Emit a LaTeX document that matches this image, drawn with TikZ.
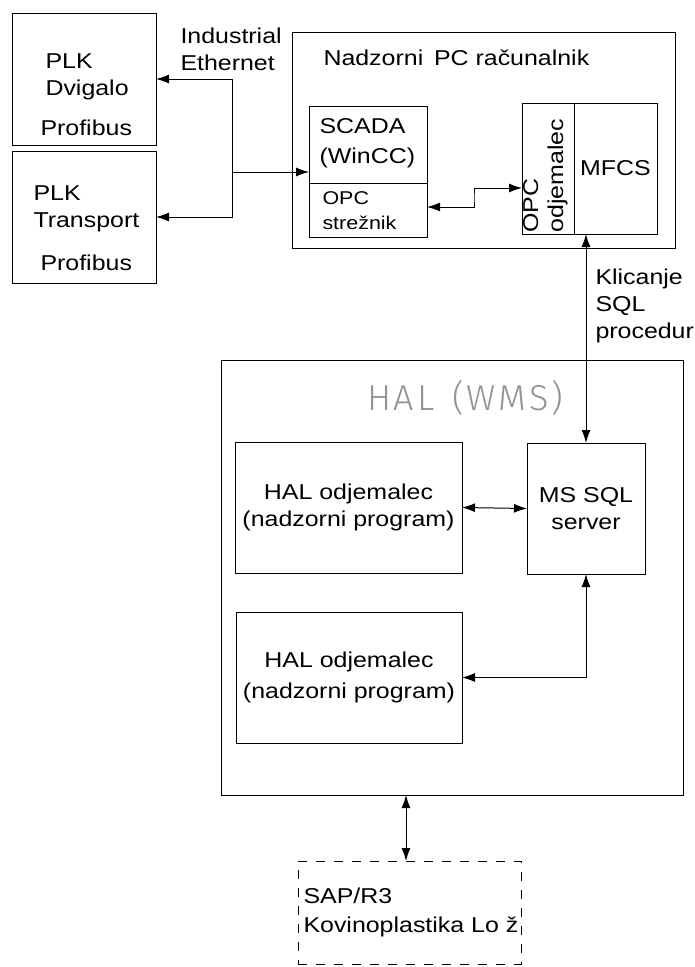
\documentclass[tikz,border=0pt]{standalone}
\usepackage{fontspec}
\setmainfont{Liberation Sans}[FakeStretch=1.16]
\newfontfamily\thinfont{Fira Sans Light}[LetterSpace=8]
\usetikzlibrary{arrows.meta,calc}

\begin{document}
\begin{tikzpicture}[x=1pt, y=-1pt, >={Latex[length=13pt,width=9pt]}, font=\fontsize{21.5}{27}\selectfont, line width=1pt]

% Boxes and free labels (base west = baseline of the last line)
\tikzstyle{box} = [draw, rectangle, inner sep=0pt, outer sep=0pt, anchor=north west, align=center]
\tikzstyle{lbl} = [inner sep=0pt, anchor=base west, align=left]

\useasboundingbox (0,0) rectangle (694,967);

% PLK units
\node[box, minimum width=144pt, minimum height=132pt] (dvigalo) at (12,13) {};
\node[box, minimum width=144pt, minimum height=132pt] (transport) at (12,151) {};
\node[lbl] at (45,95) {PLK\\Dvigalo};
\node[lbl] at (40,135) {Profibus};
\node[lbl] at (33,227) {PLK\\Transport};
\node[lbl] at (40,270) {Profibus};
\node[lbl] at (180,70) {Industrial\\Ethernet};

% Supervisory PC
\node[box, minimum width=383pt, minimum height=216pt] (pc) at (292,32) {};
\node[lbl] at (323,65) {Nadzorni\enspace PC računalnik};
\node[box, minimum width=118pt, minimum height=77pt] (scada) at (309,106) {};
\node[box, minimum width=118pt, minimum height=54pt] (opcs) at (309,183) {};
\node[lbl] at (319,163) {SCADA\\[3pt](WinCC)};
\node[lbl, font=\fontsize{18.5}{25}\selectfont] at (322,229) {OPC\\strežnik};
\node[box, minimum width=52pt, minimum height=131pt] (opc) at (522,103) {};
\node[box, minimum width=83pt, minimum height=131pt] (mfcs) at (574,103) {MFCS};
\node[lbl, rotate=90, font=\fontsize{21.5}{25}\selectfont] at (563,233) {OPC\\odjemalec};

% HAL (WMS)
\node[box, minimum width=462pt, minimum height=435pt] (hal) at (221,360) {};
\node[inner sep=0pt, anchor=base, text=gray!85, font=\thinfont\fontsize{36}{40}\selectfont] at (465,410) {HAL\enspace(WMS)};
\node[box, minimum width=227pt, minimum height=131pt] (hal1) at (235,442) {HAL odjemalec\\(nadzorni program)};
\node[box, minimum width=118pt, minimum height=131pt] (sql) at (527,443) {MS SQL\\server};
\node[box, minimum width=226pt, minimum height=131pt] (hal2) at (236,612) {HAL odjemalec\\[4pt](nadzorni program)};

% SAP
\node[box, dash pattern=on 9pt off 9pt, minimum width=223pt, minimum height=103pt] (sap) at (298,861) {};
\node[lbl, font=\fontsize{21.5}{29}\selectfont] at (303,932) {SAP/R3\\Kovinoplastika Lo ž};

% Connections
\coordinate (ethj) at (232,172);
\draw[->] (ethj) |- (dvigalo.east);
\draw[->] (ethj) |- (transport.east);
\draw[->] (ethj) -- (ethj -| scada.west);

\coordinate (opcjog) at (474,198);
\draw[<->] ([yshift=3pt]opcs.east) -| (opcjog) |- ([yshift=-19.5pt]opc.west);

\draw[<->] (sql.north) -- (sql.north |- mfcs.south);
\node[lbl] at (595,338) {Klicanje\\SQL\\procedur};

\draw[<->] (hal1.east) -- (sql.west);
\draw[<->] (sql.south) |- (hal2.east);
\draw[<->] ([xshift=-3.5pt]sap.north) -- ([xshift=-3.5pt]sap.north |- hal.south);

\end{tikzpicture}
\end{document}
